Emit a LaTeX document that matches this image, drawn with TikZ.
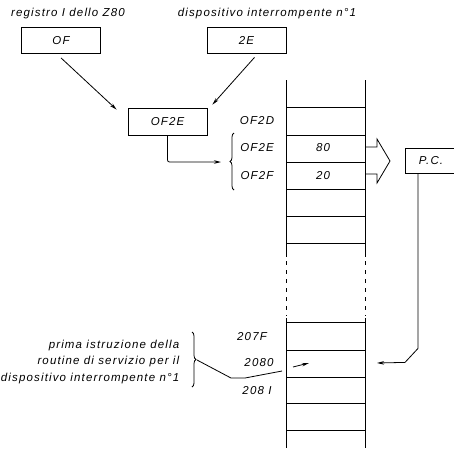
\documentclass[tikz,border=0pt]{standalone}
\usepackage{fontspec}
\setmainfont{Liberation Sans}
\usetikzlibrary{arrows.meta,decorations.pathreplacing}

\tikzset{
  lbl/.style={font=\itshape\fontsize{11.5}{16.5}\selectfont\addfontfeatures{LetterSpace=10}},
  regbox/.style={draw, minimum width=79pt, minimum height=26pt, inner sep=0pt, lbl},
  tip/.style={-{Stealth[length=7pt,width=3.5pt]}},
}

\begin{document}
\begin{tikzpicture}[x=1pt,y=-1pt,line width=0.8pt]
\useasboundingbox (0,0) rectangle (454,448);

% -----------------------------
% Registers and vector
% -----------------------------
\node[lbl] (regtxt) at (68,14) {registro I dello Z80};
\node[lbl] (devtxt) at (267,14) {dispositivo interrompente n°1};

\node[regbox] (reg) at (61,40.5) {OF};
\node[regbox] (dev) at (246.5,40) {2E};
\node[regbox, minimum height=27pt] (vec) at (167.5,121.5) {OF2E};

\draw[tip] ([yshift=-4pt]reg.south) -- ([xshift=-11pt,yshift=-2pt]vec.north west);
\draw[tip] ([xshift=8pt,yshift=-4pt]dev.south) -- ([xshift=5pt,yshift=3pt]vec.north east);

% pointer into the table
\coordinate (brc) at (221,162);
\draw[tip, rounded corners=2pt] (vec.south) |- (brc);
\draw[decorate, decoration={brace, amplitude=4pt}] (234,190) -- (234,133);

% -----------------------------
% Memory column
% -----------------------------
\foreach \y in {107,135,162,189,216,243,322,350,377,403,430}
    \draw (286,\y) -- (365,\y);
\foreach \x in {286,365} {
    \draw (\x,80) -- (\x,257);          % upper part
    \draw[dash pattern=on 4pt off 5pt] (\x,261) -- (\x,316);
    \draw (\x,318) -- (\x,448);         % lower part
}

% addresses
\node[lbl] (a2D) at (257,121) {OF2D};
\node[lbl] (a2E) at (257,148) {OF2E};
\node[lbl] (a2F) at (257,175.5) {OF2F};
\node[lbl] (a7F) at (252,337) {207F};
\node[lbl] (a80) at (259,363) {2080};
\node[lbl] (a81) at (257,391) {208 I};

% contents
\node[lbl] (v80) at (323,148) {80};
\node[lbl] (v20) at (323,175.5) {20};

% wide arrow to the program counter
\draw (365,147) -- (377,147) -- (377,139) -- (390,161)
      -- (377,183) -- (377,174) -- (365,174);

\node[regbox, minimum width=52pt, minimum height=25pt] (pc) at (431,160.5) {P.C.};

% P.C. back into the routine
\coordinate (tgt) at (377,363);
\draw[tip] ([xshift=-13pt]pc.south) -- ++(0,175) -- ++(-13,14) -- (tgt);
\coordinate (cs) at (293,367);
\coordinate (ce) at (309,363);
\draw[tip] (cs) -- (ce);

% -----------------------------
% Note on the left
% -----------------------------
\node[lbl, align=right, anchor=east] (note) at (183,362)
    {prima istruzione della\\routine di servizio per il\\dispositivo interrompente n°1};
\draw[decorate, decoration={brace, amplitude=4pt}] (192,332) -- (192,387);
\coordinate (nb) at (197,360);
\coordinate (nk) at (231,378);
\coordinate (nm) at (245,378);
\coordinate (ne) at (282,371);
\draw (nb) -- (nk) -- (nm) -- (ne);

\end{tikzpicture}
\end{document}
